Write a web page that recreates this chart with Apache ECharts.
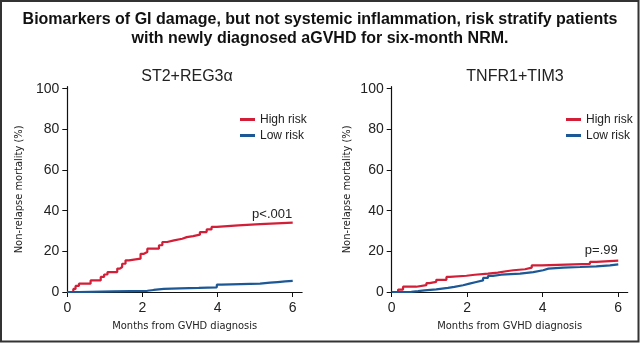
<!DOCTYPE html>
<html>
<head>
<meta charset="utf-8">
<script src="https://cdn.jsdelivr.net/npm/echarts@6/dist/echarts.min.js"></script>
<style>
  html, body { margin: 0; padding: 0; background: #fff; }
  #chart { width: 640px; height: 344px; }
</style>
</head>
<body>
<div id="chart"></div>
<script>
// [month, percent] points
const st2HighRisk = [[0,0],[0.16,1.5],[0.22,3.0],[0.31,4.1],[0.62,5.7],[0.89,7.4],[0.98,8.6],[1.07,9.8],[1.33,11.5],[1.40,12.3],[1.46,13.9],[1.55,15.6],[1.64,16.4],[1.95,18.8],[2.04,19.7],[2.13,21.3],[2.44,23.0],[2.53,24.6],[2.66,25.4],[2.84,26.2],[3.06,27.0],[3.18,27.5],[3.35,28.2],[3.53,29.5],[3.71,30.8],[3.84,32.0],[3.98,32.8],[4.55,33.4],[5.13,34.1],[6.0,34.1]]
const st2LowRisk = [[0,0],[0.3,0.1],[0.62,0.3],[1.22,0.6],[2.13,1.0],[2.3,1.5],[2.57,1.8],[3.0,2.0],[3.5,2.3],[3.98,3.6],[4.1,4.1],[5.13,4.6],[5.4,4.9],[5.6,5.2],[5.8,5.5],[6.0,5.7]]
const tnfHighRisk = [[0,0],[0.17,1.2],[0.3,2.6],[0.65,3.4],[0.92,4.4],[1.0,5.0],[1.18,6.0],[1.45,7.4],[1.54,8.0],[1.98,8.5],[2.2,9.0],[2.55,9.5],[2.81,10.2],[3.03,10.7],[3.22,11.2],[3.53,12.0],[3.71,13.1],[3.97,13.8],[5.25,14.8],[5.42,15.4],[6.0,15.4]]
const tnfLowRisk = [[0,0],[0.26,0.1],[0.52,0.4],[0.7,0.8],[0.87,1.3],[1.18,2.0],[1.49,2.5],[1.66,3.3],[1.89,4.1],[2.06,4.9],[2.24,5.7],[2.42,6.9],[2.55,7.9],[2.68,8.5],[2.9,9.0],[3.4,9.8],[3.75,10.7],[4.01,11.5],[4.15,12.0],[4.54,12.3],[4.99,12.6],[5.42,13.1],[5.78,13.6],[6.0,13.9]]
const xTicks = [0, 2, 4, 6]
const yTicks = [0, 20, 40, 60, 80, 100]
const panelTitles = ['ST2+REG3α', 'TNFR1+TIM3']
const pValues = ['p<.001', 'p=.99']
const pValueY = [38, 20.5]
const mainTitle = ['Biomarkers of GI damage, but not systemic inflammation, risk stratify patients',
  'with newly diagnosed aGVHD for six-month NRM.']

const RED = '#d21f37'
const BLUE = '#1c5895'
const narrow = '"DejaVu Sans Condensed", sans-serif'
const plain = '"Liberation Sans", Arial, sans-serif'

const myChart = echarts.init(document.getElementById('chart'))

function xAxisFor(idx) {
  return {
    type: 'value',
    gridIndex: idx,
    min: 0,
    max: 6.25,
    name: 'Months from GVHD diagnosis',
    nameLocation: 'middle',
    nameGap: 29,
    nameTextStyle: { fontFamily: narrow, fontSize: 11, color: '#222' },
    axisLine: { lineStyle: { color: '#111', width: 1.2 } },
    axisTick: { customValues: xTicks, length: 5, lineStyle: { color: '#111' } },
    axisLabel: { customValues: xTicks, fontFamily: plain, fontSize: 14, color: '#222', margin: 9 },
    splitLine: { show: false }
  }
}

function yAxisFor(idx, gap) {
  return {
    type: 'value',
    gridIndex: idx,
    min: 0,
    max: 101,
    name: 'Non-relapse mortality (%)',
    nameLocation: 'middle',
    nameGap: gap,
    nameTextStyle: { fontFamily: narrow, fontSize: 11, color: '#222' },
    axisLine: { show: true, lineStyle: { color: '#111', width: 1.2 } },
    axisTick: { show: true, customValues: yTicks, length: 5, lineStyle: { color: '#111' } },
    axisLabel: { customValues: yTicks, fontFamily: plain, fontSize: 14, color: '#222', margin: 8 },
    splitLine: { show: false }
  }
}

function curve(name, data, color, idx, pIdx) {
  const s = {
    name: name,
    type: 'line',
    step: 'end',
    xAxisIndex: idx,
    yAxisIndex: idx,
    data: data,
    showSymbol: false,
    lineStyle: { color: color, width: 2.2 },
    itemStyle: { color: color }
  }
  if (pIdx !== undefined) {
    s.markPoint = {
      symbol: 'circle',
      symbolSize: 1,
      itemStyle: { color: 'transparent' },
      label: {
        show: true,
        position: 'left',
        distance: 0,
        formatter: pValues[pIdx],
        fontFamily: plain,
        fontSize: 13,
        color: '#222'
      },
      data: [{ coord: [6, pValueY[pIdx]] }]
    }
  }
  return s
}

function legendAt(left) {
  return {
    orient: 'vertical',
    left: left,
    top: 108,
    itemWidth: 15,
    itemHeight: 3,
    itemGap: 3,
    icon: 'rect',
    data: ['High risk', 'Low risk'],
    textStyle: { fontFamily: plain, fontSize: 12, color: '#222', lineHeight: 13 }
  }
}

function titleLine(text, y) {
  return {
    type: 'text',
    x: 320,
    y: y,
    silent: true,
    style: {
      text: text,
      x: 0,
      y: 0,
      align: 'center',
      verticalAlign: 'middle',
      fill: '#111',
      font: 'bold 16px "Liberation Sans", Arial, sans-serif'
    }
  }
}

let option = {
  backgroundColor: '#FFFFFF',
  animation: false,
  title: [
    {
      text: panelTitles[0],
      left: 182,
      top: 64,
      textAlign: 'center',
      textStyle: { fontFamily: plain, fontWeight: 'normal', fontSize: 16, color: '#222' }
    },
    {
      text: panelTitles[1],
      left: 510,
      top: 64,
      textAlign: 'center',
      textStyle: { fontFamily: plain, fontWeight: 'normal', fontSize: 16, color: '#222' }
    }
  ],
  legend: [legendAt(235), legendAt(561)],
  grid: [
    { left: 67.3, top: 86.7, width: 234.8, height: 205.3 },
    { left: 391.7, top: 86.7, width: 236, height: 205.3 }
  ],
  xAxis: [xAxisFor(0), xAxisFor(1)],
  yAxis: [yAxisFor(0, 43), yAxisFor(1, 39)],
  series: [
    curve('High risk', st2HighRisk, RED, 0, 0),
    curve('Low risk', st2LowRisk, BLUE, 0),
    curve('High risk', tnfHighRisk, RED, 1, 1),
    curve('Low risk', tnfLowRisk, BLUE, 1)
  ],
  graphic: [
    titleLine(mainTitle[0], 20),
    titleLine(mainTitle[1], 38.5),
    {
      type: 'rect',
      shape: { x: 1, y: 1, width: 637.5, height: 340.5 },
      style: { fill: 'none', stroke: '#333', lineWidth: 2 },
      silent: true
    }
  ]
}
myChart.setOption(option)
</script>
</body>
</html>
